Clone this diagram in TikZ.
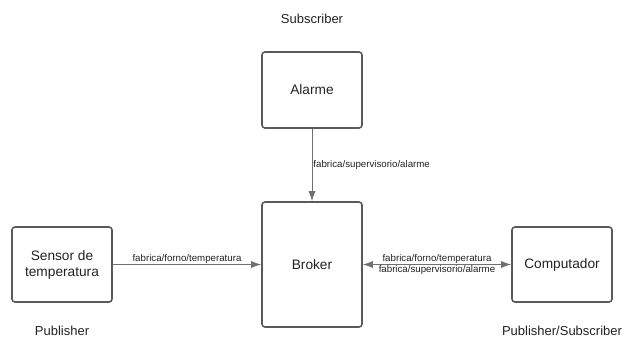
\documentclass[tikz,border=0pt]{standalone}
\usepackage{fontspec}
\setmainfont{Liberation Sans}
\usetikzlibrary{arrows.meta}
\definecolor{boxgray}{HTML}{5A5A5A}
\definecolor{linegray}{HTML}{707070}
\definecolor{txtgray}{HTML}{222222}
\tikzset{
	comp/.style={draw=boxgray, line width=1.6bp, rounded corners=3bp, minimum width=100bp, text=txtgray, font=\fontsize{13.7bp}{16bp}\selectfont, align=center},
	role/.style={text=txtgray, font=\fontsize{13bp}{15bp}\selectfont},
	topic/.style={text=txtgray, font=\fontsize{9.7bp}{11bp}\selectfont, inner sep=1bp},
	conn/.style={draw=linegray, line width=0.9bp},
	tip/.style={-{Latex[length=10bp, width=7bp]}}
}
\begin{document}
\begin{tikzpicture}[x=1bp, y=-1bp]
	\useasboundingbox (0,0) rectangle (626,337);
	\node [comp, minimum height=76bp] (alarme) at (312,90) {Alarme};
	\node [comp, minimum height=125bp] (broker) at (312,264.5) {Broker};
	\node [comp, minimum height=75bp] (sensor) at (62,264.5) {Sensor de\\temperatura};
	\node [comp, minimum height=75bp] (comp) at (562,264.5) {Computador};

	\node [role] (sub) at (312,19) {Subscriber};
	\node [role] (pub) at (62,331) {Publisher};
	\node [role] (pubsub) at (562,331) {Publisher/Subscriber};

	\draw [conn, tip] (alarme) -- node [topic, right, pos=0.5] {fabrica/supervisorio/alarme} (broker);
	\draw [conn, tip] (sensor) -- node [topic, above] {fabrica/forno/temperatura} (sensor -| broker.west);
	\draw [conn, {Latex[length=10bp, width=7bp]}-{Latex[length=10bp, width=7bp]}] (broker.east |- comp) -- node [topic, above] {fabrica/forno/temperatura} node [topic, below] {fabrica/supervisorio/alarme} (comp);
\end{tikzpicture}
\end{document}
